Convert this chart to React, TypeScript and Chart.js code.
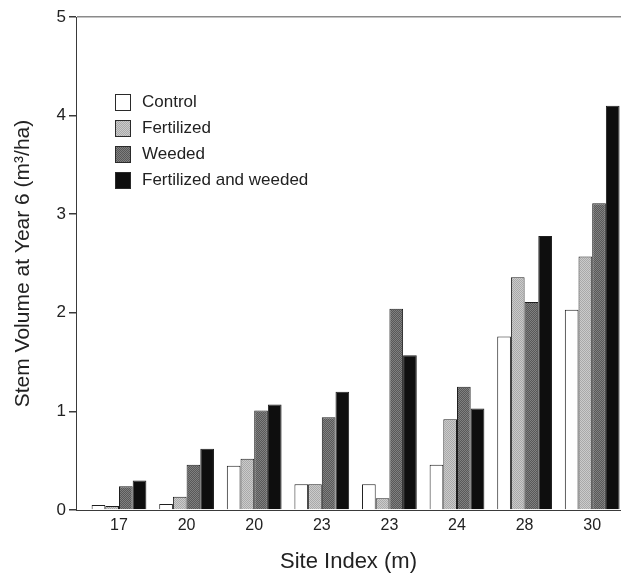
import React, { useEffect, useRef, useState } from "react";
import { Chart, registerables } from "chart.js";

Chart.register(...registerables);

const categories = ["17", "20", "20", "23", "23", "24", "28", "30"];
const seriesNames = ["Control", "Fertilized", "Weeded", "Fertilized and weeded"];
const control = [0.05, 0.06, 0.45, 0.26, 0.26, 0.46, 1.76, 2.03];
const fertilized = [0.04, 0.135, 0.52, 0.26, 0.12, 0.92, 2.36, 2.57];
const weeded = [0.24, 0.46, 1.01, 0.94, 2.04, 1.25, 2.11, 3.11];
const fertWeeded = [0.3, 0.62, 1.07, 1.2, 1.57, 1.03, 2.78, 4.1];
const yTicks = [0, 1, 2, 3, 4, 5];

const seriesColors = ["#ffffff", "#cbcbcb", "#585858", "#0e0e0e"];
const seriesDots = [null, "#a9a9a9", "#808080", null];
const FONT = "'Liberation Sans', Arial, Helvetica, sans-serif";

function makePatternCanvas(base: string, dot: string | null) {
  const c = document.createElement("canvas");
  c.width = 2;
  c.height = 2;
  const g = c.getContext("2d")!;
  g.fillStyle = base;
  g.fillRect(0, 0, 2, 2);
  if (dot) {
    g.fillStyle = dot;
    g.fillRect(0, 0, 1, 1);
    g.fillRect(1, 1, 1, 1);
  }
  return c;
}

export default function App() {
  const ref = useRef<HTMLCanvasElement>(null);
  const [swatches, setSwatches] = useState<string[]>([]);

  useEffect(() => {
    if (!ref.current) return;
    const values = [control, fertilized, weeded, fertWeeded];
    const pcs = seriesColors.map((c, i) => makePatternCanvas(c, seriesDots[i]));
    const ctx = ref.current.getContext("2d")!;
    const fills = pcs.map((pc, i) => (seriesDots[i] ? ctx.createPattern(pc, "repeat")! : seriesColors[i]));
    setSwatches(pcs.map((pc) => pc.toDataURL()));

    const step = 67.6;
    const plotLeft = 76;
    const plotRight = 621;
    const xMin = -(119 - plotLeft) / step;
    const xMax = xMin + (plotRight - plotLeft) / step;

    const chart = new Chart(ref.current, {
      type: "bar",
      data: {
        datasets: seriesNames.map((name, i) => ({
          label: name,
          data: values[i].map((v, k) => ({ x: k, y: v })),
          backgroundColor: fills[i] as any,
          borderColor: "#1e1e1e",
          borderWidth: 1,
          barPercentage: 1,
          categoryPercentage: 0.81,
        })),
      },
      options: {
        responsive: false,
        animation: false,
        layout: { padding: { top: 17, right: 0, left: 0, bottom: 0 } },
        plugins: {
          legend: { display: false },
          tooltip: { enabled: false },
        },
        scales: {
          x: {
            type: "linear",
            min: xMin,
            max: xMax,
            offset: false,
            afterBuildTicks: (s: any) => {
              s.ticks = categories.map((_, k) => ({ value: k }));
            },
            grid: { display: false, drawTicks: false, tickLength: 0 },
            border: { display: true, color: "#3a3a3a", width: 1 },
            ticks: {
              color: "#222",
              font: { family: FONT, size: 16 },
              padding: 6,
              maxRotation: 0,
              autoSkip: false,
              callback: (v: any) => categories[Math.round(Number(v))] ?? "",
            },
            title: {
              display: true,
              text: "Site Index (m)",
              color: "#222",
              font: { family: FONT, size: 22 },
              padding: { top: 0, bottom: 0 },
            },
            afterFit: (s: any) => {
              s.height = 65;
            },
          },
          y: {
            min: 0,
            max: 5,
            afterBuildTicks: (s: any) => {
              s.ticks = yTicks.map((v) => ({ value: v }));
            },
            grid: {
              drawOnChartArea: true,
              color: (c: any) => (c.tick && c.tick.value === 5 ? "#8a8a8a" : "rgba(0,0,0,0)"),
              tickColor: "#3a3a3a",
              tickLength: 7,
              lineWidth: 1.5,
            },
            border: { display: true, color: "#3a3a3a", width: 1 },
            ticks: {
              color: "#222",
              font: { family: FONT, size: 17 },
              padding: 3,
            },
            title: {
              display: true,
              text: "Stem Volume at Year 6 (m³/ha)",
              color: "#222",
              font: { family: FONT, size: 21 },
              padding: { top: 11, bottom: 0 },
            },
            afterFit: (s: any) => {
              s.width = 76;
            },
          },
        },
      },
    });
    return () => chart.destroy();
  }, []);

  return (
    <div style={{ position: "absolute", left: 0, top: 0, width: 621, height: 575, background: "#fff" }}>
      <canvas ref={ref} width={621} height={575} style={{ display: "block" }} />
      <div
        style={{
          position: "absolute",
          left: 115,
          top: 89,
          fontFamily: FONT,
          fontSize: 17,
          color: "#222",
        }}
      >
        {seriesNames.map((name, i) => (
          <div key={name} style={{ display: "flex", alignItems: "center", height: 26 }}>
            <span
              style={{
                display: "inline-block",
                width: 16,
                height: 17,
                boxSizing: "border-box",
                border: "1px solid #2a2a2a",
                backgroundColor: seriesColors[i],
                backgroundImage: swatches[i] && seriesDots[i] ? `url(${swatches[i]})` : "none",
                backgroundRepeat: "repeat",
                marginRight: 11,
              }}
            />
            <span>{name}</span>
          </div>
        ))}
      </div>
    </div>
  );
}
